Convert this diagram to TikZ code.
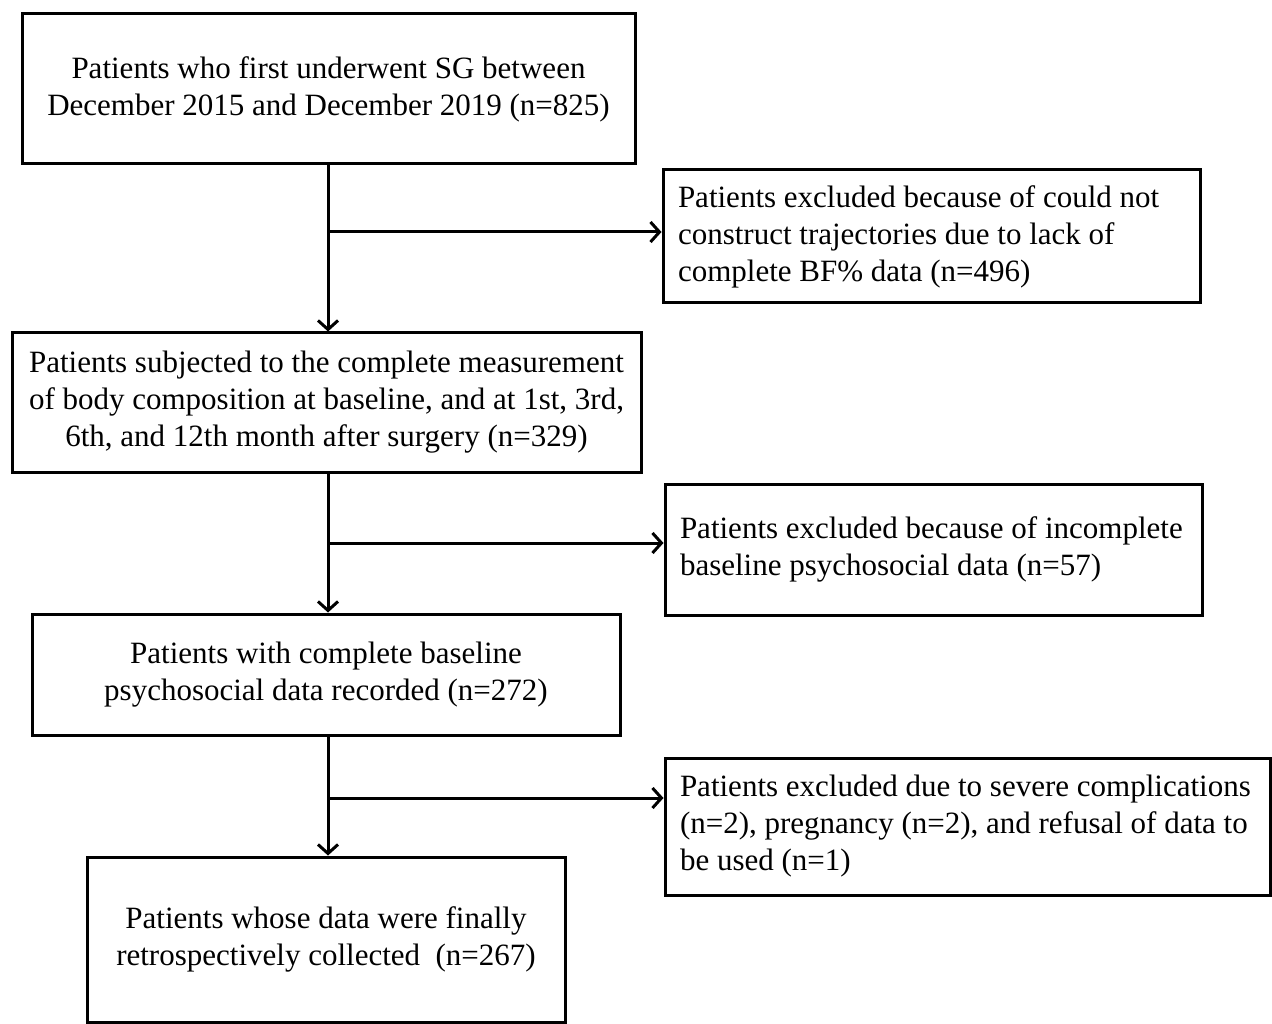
\documentclass[tikz,border=0pt]{standalone}
\usepackage{fontspec}
\setmainfont{Liberation Serif}
\usepackage{xcolor}
\usetikzlibrary{arrows.meta}

\tikzset{
	flowbox/.style={draw=black, line width=3pt, inner sep=0pt,
		font=\fontsize{31}{37}\selectfont, align=center},
	exclbox/.style={flowbox, align=flush left},
	flowline/.style={line width=3pt, black},
	flowarrow/.style={flowline, -{Straight Barb[length=9pt,width=20pt,line width=3pt]}}
}

\begin{document}
\begin{tikzpicture}[x=1pt, y=-1pt]
			%\draw[help lines] (0,0) grid (1272,1024);
			\useasboundingbox (0,0) rectangle (1272,1024);
			
			% main column
			\node[flowbox, minimum width=613pt, minimum height=150pt] (patients) at (328.5,89)
			{Patients who first underwent SG between\\December 2015 and December 2019 (n=825)};
			\node[flowbox, minimum width=629pt, minimum height=139pt] (measured) at (326.5,402.5)
			{Patients subjected to the complete measurement\\of body composition at baseline, and at 1st, 3rd,\\6th, and 12th month after surgery (n=329)};
			\node[flowbox, minimum width=588pt, minimum height=121pt] (psycho) at (326,674.5)
			{Patients with complete baseline\\psychosocial data recorded (n=272)};
			\node[flowbox, minimum width=478pt, minimum height=165pt] (final) at (326,939.5)
			{Patients whose data were finally\\retrospectively collected~ (n=267)};
			
			% exclusions
			\node[exclbox, minimum width=537pt, minimum height=133pt, text width=507pt] (excla) at (931.5,236.5)
			{Patients excluded because of could not\\construct trajectories due to lack of\\complete BF\% data (n=496)};
			\node[exclbox, minimum width=537pt, minimum height=131pt, text width=507pt] (exclb) at (933.5,549.5)
			{Patients excluded because of incomplete\\baseline psychosocial data (n=57)};
			\node[exclbox, minimum width=605pt, minimum height=137pt, text width=575pt] (exclc) at (967.5,826.5)
			{Patients excluded due to severe complications\\(n=2), pregnancy (n=2), and refusal of data to\\be used (n=1)};
			
			\coordinate (ja) at (328,232);
			\coordinate (jb) at (328,543);
			\coordinate (jc) at (328,798);
			
			\draw[flowarrow] (ja |- patients.south) -- (ja |- measured.north);
			\draw[flowarrow] (jb |- measured.south) -- (jb |- psycho.north);
			\draw[flowarrow] (jc |- psycho.south) -- (jc |- final.north);
			
			\draw[flowarrow] (ja) -- (ja -| excla.west);
			\draw[flowarrow] (jb) -- (jb -| exclb.west);
			\draw[flowarrow] (jc) -- (jc -| exclc.west);
			
\end{tikzpicture}
\end{document}
